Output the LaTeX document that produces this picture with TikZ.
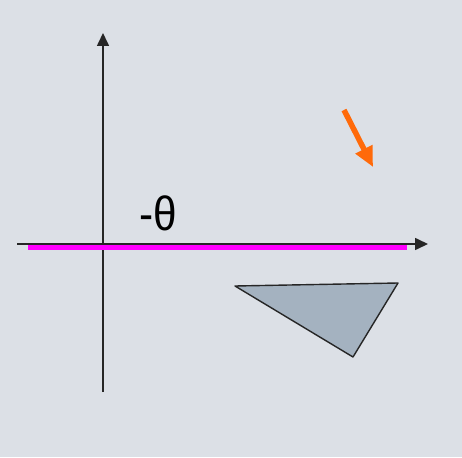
\documentclass[tikz,border=0pt]{standalone}
\usepackage{fontspec}
\setmainfont{Liberation Sans}
\usetikzlibrary{arrows.meta}
\definecolor{bg}{HTML}{DCE0E6}
\definecolor{trifill}{HTML}{A4B2C0}
\definecolor{mag}{HTML}{FF00FF}
\definecolor{orng}{HTML}{FF6A0A}
\begin{document}
\begin{tikzpicture}[x=1pt,y=-1pt,
  axis/.style={draw=black!85,line width=1.6pt,-{Triangle[length=13pt,width=12pt]}},
  magline/.style={draw=mag,line width=4.5pt},
  orarrow/.style={draw=orng,line width=5.5pt,-{Triangle[length=20pt,width=18pt]}},
  tri/.style={draw=black!85,fill=trifill,line width=1.4pt,line join=round}]
\fill[bg] (0,0) rectangle (462,457);
\useasboundingbox (0,0) rectangle (462,457);
\coordinate (ybot) at (103,392);
\coordinate (ytop) at (103,33);
\coordinate (xl) at (17,244);
\coordinate (xr) at (428,244);
\coordinate (ml) at (28,247.5);
\coordinate (mr) at (407,247.5);
\coordinate (os) at (344,110);
\coordinate (oe) at (373,167);
\coordinate (ta) at (235,286);
\coordinate (tb) at (398,283);
\coordinate (tc) at (353,357);
\draw[axis] (ybot) -- (ytop);
\draw[axis] (xl) -- (xr);
\draw[magline] (ml) -- (mr);
\draw[orarrow] (os) -- (oe);
\draw[tri] (ta) -- (tb) -- (tc) -- cycle;
\node[font=\fontsize{48}{56}\selectfont, inner sep=0pt, xscale=0.88] (lbl) at (158,213) {-θ};
\end{tikzpicture}
\end{document}
